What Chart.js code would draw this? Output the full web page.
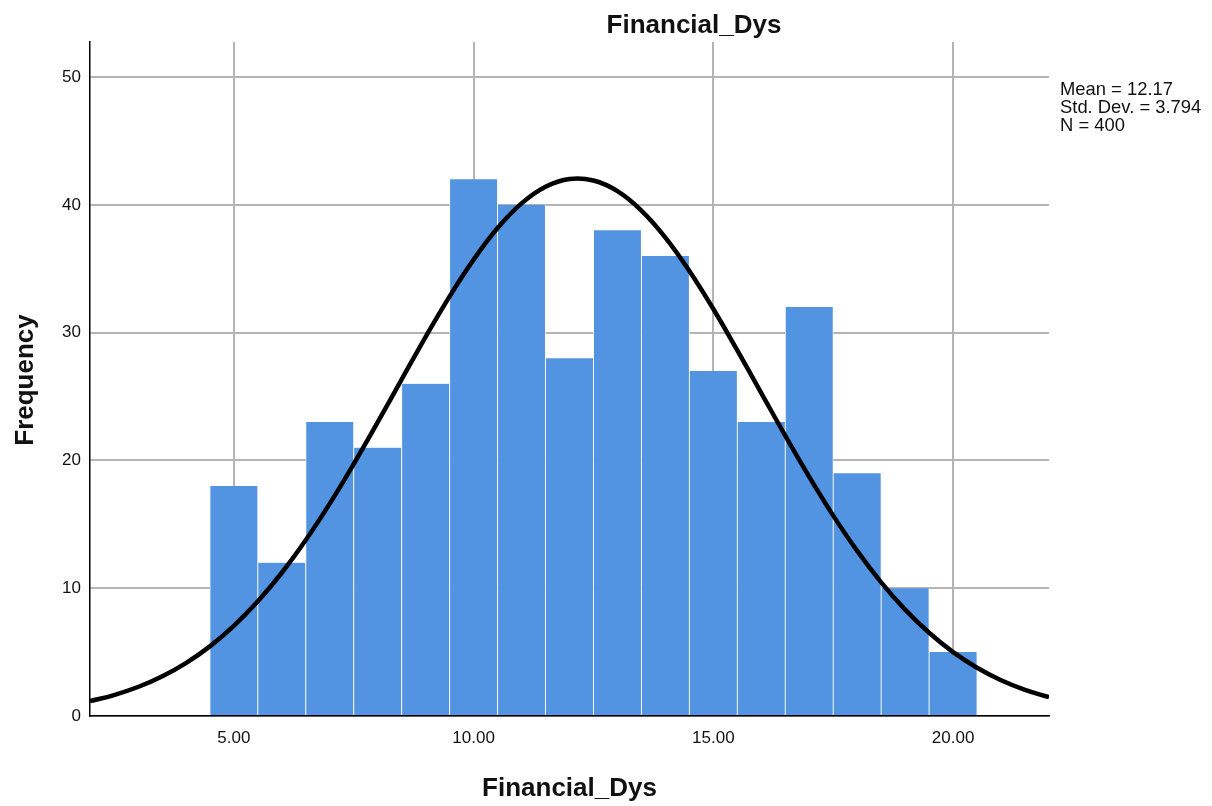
<!DOCTYPE html>
<html>
<head>
<meta charset="utf-8">
<title>Financial_Dys</title>
<script src="https://cdn.jsdelivr.net/npm/chart.js@4.4.1/dist/chart.umd.min.js"></script>
<style>
  html, body { margin: 0; padding: 0; background: #fff; }
  #wrap { width: 1212px; height: 806px; }
</style>
</head>
<body>
<div id="wrap"><canvas id="histChart" width="1212" height="806"></canvas></div>
<script>
// histogram bins (midpoints) and counts
const binMids = [5, 6, 7, 8, 9, 10, 11, 12, 13, 14, 15, 16, 17, 18, 19, 20];
const binCounts = [18, 12, 23, 21, 26, 42, 40, 28, 38, 36, 27, 23, 32, 19, 10, 5];

// normal curve, every half unit
const curveX = [2, 2.5, 3, 3.5, 4, 4.5, 5, 5.5, 6, 6.5, 7, 7.5, 8, 8.5, 9, 9.5, 10, 10.5, 11, 11.5,
  12, 12.5, 13, 13.5, 14, 14.5, 15, 15.5, 16, 16.5, 17, 17.5, 18, 18.5, 19, 19.5, 20, 20.5, 21, 21.5, 22];
const curveY = [1.16, 1.64, 2.27, 3.09, 4.14, 5.45, 7.05, 8.97, 11.21, 13.77, 16.62, 19.72, 22.99, 26.34, 29.67, 32.84,
  35.71, 38.18, 40.11, 41.41, 42.02, 41.90, 41.07, 39.55, 37.44, 34.83, 31.85, 28.61, 25.27, 21.93, 18.71, 15.68,
  12.92, 10.46, 8.32, 6.51, 5.00, 3.78, 2.80, 2.05, 1.47];

const xTicks = [5, 10, 15, 20];
const yTicks = [0, 10, 20, 30, 40, 50];

const statsLines = ['Mean = 12.17', 'Std. Dev. = 3.794', 'N = 400'];
const chartTitle = 'Financial_Dys';
const xTitle = 'Financial_Dys';
const yTitle = 'Frequency';

const FONT = "'Liberation Sans', Arial, sans-serif";

const textPlugin = {
  id: 'spssText',
  afterDraw(chart) {
    const ctx = chart.ctx;
    const area = chart.chartArea;
    ctx.save();
    ctx.fillStyle = '#111';

    // main title
    ctx.font = 'bold 26px ' + FONT;
    ctx.textAlign = 'center';
    ctx.textBaseline = 'alphabetic';
    ctx.fillText(chartTitle, 694, 33);

    // x axis title
    ctx.fillText(xTitle, (area.left + area.right) / 2, 796);

    // y axis title
    ctx.save();
    ctx.translate(33, 380);
    ctx.rotate(-Math.PI / 2);
    ctx.fillText(yTitle, 0, 0);
    ctx.restore();

    // stats box
    ctx.font = '18.4px ' + FONT;
    ctx.textAlign = 'left';
    statsLines.forEach((line, i) => {
      ctx.fillText(line, 1060, 95 + i * 18);
    });
    ctx.restore();
  }
};

const ctx = document.getElementById('histChart').getContext('2d');
const chart = new Chart(ctx, {
  type: 'bar',
  data: {
    datasets: [
      {
        type: 'line',
        data: curveX.map((x, i) => ({ x: x, y: curveY[i] })),
        borderColor: '#000',
        borderWidth: 4.5,
        pointRadius: 0,
        tension: 0.4,
        fill: false,
        order: 0
      },
      {
        type: 'bar',
        data: binMids.map((x, i) => ({ x: x, y: binCounts[i] })),
        backgroundColor: '#5294E2',
        borderColor: '#ffffff',
        borderWidth: { left: 0.8, right: 0.8, top: 0, bottom: 0 },
        borderSkipped: false,
        barPercentage: 1,
        categoryPercentage: 1,
        order: 1
      }
    ]
  },
  options: {
    responsive: false,
    animation: false,
    devicePixelRatio: 1,
    layout: { padding: { top: 42, right: 163, left: 0, bottom: 0 } },
    plugins: {
      legend: { display: false },
      tooltip: { enabled: false },
      title: { display: false }
    },
    scales: {
      x: {
        type: 'linear',
        min: 2,
        max: 22,
        offset: false,
        afterBuildTicks: (scale) => { scale.ticks = xTicks.map(v => ({ value: v })); },
        afterFit: (scale) => { scale.height = 90; },
        grid: { color: '#b4b4b4', lineWidth: 2, drawTicks: false, offset: false },
        border: { color: '#000', width: 1.5 },
        ticks: {
          padding: 12,
          color: '#111',
          font: { family: FONT, size: 17 },
          callback: (v) => Number(v).toFixed(2)
        }
      },
      y: {
        type: 'linear',
        min: 0,
        max: 52.74,
        afterBuildTicks: (scale) => { scale.ticks = yTicks.map(v => ({ value: v })); },
        afterFit: (scale) => { scale.width = 90; },
        grid: { color: '#b4b4b4', lineWidth: 2, drawTicks: false },
        border: { color: '#000', width: 1.5 },
        ticks: {
          padding: 9,
          color: '#111',
          font: { family: FONT, size: 17 }
        }
      }
    }
  },
  plugins: [textPlugin]
});
</script>
</body>
</html>
